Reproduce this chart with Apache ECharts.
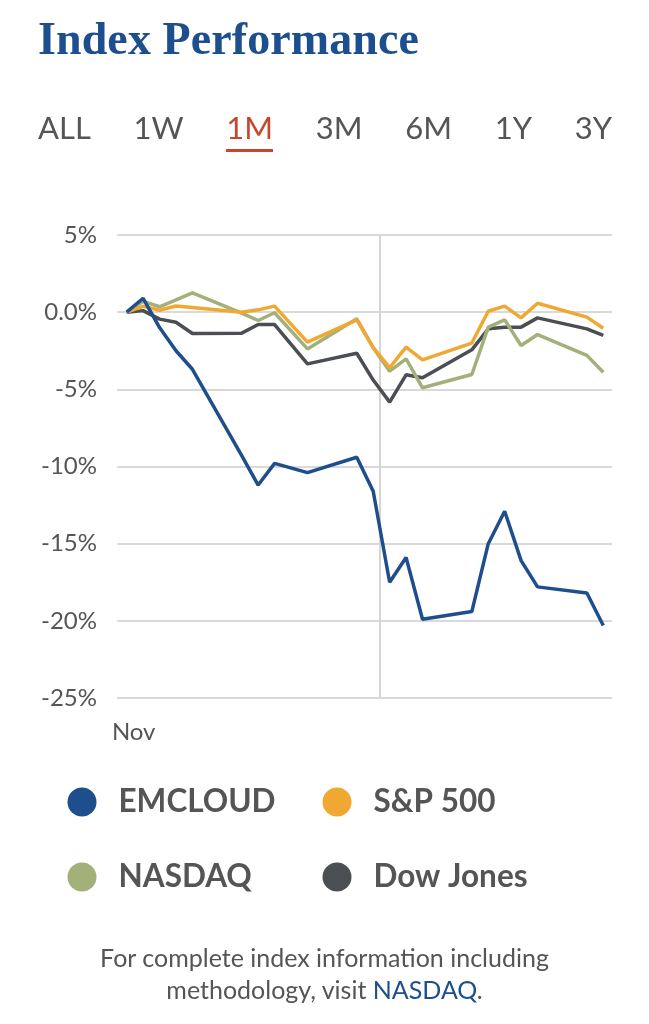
<!DOCTYPE html>
<html>
<head>
<meta charset="utf-8">
<script src="https://cdn.jsdelivr.net/npm/echarts@6/dist/echarts.min.js"></script>
<style>
  html, body { margin: 0; padding: 0; background: #ffffff; }
  body { width: 649px; height: 1024px; position: relative; overflow: hidden; font-family: Lato, "Noto Sans", sans-serif; }
  #chart { position: absolute; left: 0; top: 0; width: 649px; height: 1024px; }
  #title { position: absolute; left: 38px; top: 12px; margin: 0; font-family: "Liberation Serif", serif; font-weight: bold; font-size: 46px; color: #1d4f8f; letter-spacing: 0.1px; white-space: nowrap; z-index: 2; }
  #tabs { position: absolute; left: 38px; width: 574px; top: 108px; display: flex; justify-content: space-between; z-index: 2; }
  #tabs span { font-size: 31px; color: #555555; line-height: 38px; position: relative; }
  #tabs span.active { color: #c8462b; }
  #tabs span.active::after { content: ""; position: absolute; left: 0; right: 0; top: 41px; height: 3px; background: #c8462b; }
  #footer { position: absolute; left: 0; width: 649px; top: 941px; text-align: center; font-size: 25px; line-height: 32px; color: #555555; z-index: 2; }
  #footer a { color: #1d4f8f; text-decoration: none; }
</style>
</head>
<body>
<div id="chart"></div>
<div id="title">Index Performance</div>
<div id="tabs"></div>
<div id="footer">For complete index information including<br>methodology, visit <a href="#">NASDAQ</a>.</div>
<script>
// ---- data ----
const rangeTabs = ['ALL', '1W', '1M', '3M', '6M', '1Y', '3Y'];
const activeTab = '1M';
const tradingDays = ['2021-11-15','2021-11-16','2021-11-17','2021-11-18','2021-11-19',
  '2021-11-22','2021-11-23','2021-11-24','2021-11-26',
  '2021-11-29','2021-11-30','2021-12-01','2021-12-02','2021-12-03',
  '2021-12-06','2021-12-07','2021-12-08','2021-12-09','2021-12-10',
  '2021-12-13','2021-12-14'];
const emcloud = [0, 0.9, -1.0, -2.5, -3.7, -9.3, -11.2, -9.8, -10.4, -9.4, -11.6, -17.5, -15.9, -19.9, -19.4, -15.0, -12.9, -16.1, -17.8, -18.2, -20.3];
const sp500   = [0, 0.38, 0.12, 0.4, 0.3, 0.0, 0.15, 0.39, -1.94, -0.5, -2.3, -3.6, -2.27, -3.09, -2.0, 0.06, 0.39, -0.37, 0.58, -0.32, -1.04];
const nasdaq  = [0, 0.7, 0.35, 0.8, 1.25, -0.06, -0.54, -0.04, -2.38, -0.43, -2.3, -3.82, -3.02, -4.9, -4.04, -0.97, -0.5, -2.16, -1.45, -2.8, -3.89];
const dowJones = [0, 0.1, -0.45, -0.65, -1.38, -1.36, -0.8, -0.8, -3.35, -2.66, -4.4, -5.83, -4.06, -4.25, -2.44, -1.08, -0.97, -0.97, -0.37, -1.08, -1.51];
const seriesNames = ['EMCLOUD', 'S&P 500', 'NASDAQ', 'Dow Jones'];
const yTicks = [5, 0, -5, -10, -15, -20, -25];
const cursorDate = '2021-11-30T10:00';

// ---- tabs ----
const tabsEl = document.getElementById('tabs');
rangeTabs.forEach(t => {
  const s = document.createElement('span');
  s.textContent = t;
  if (t === activeTab) s.className = 'active';
  tabsEl.appendChild(s);
});

// ---- helpers ----
const DAY = 86400000;
function ts(s) {
  const [d, t] = s.split('T');
  const [y, m, dd] = d.split('-').map(Number);
  let h = 0, mi = 0;
  if (t) { [h, mi] = t.split(':').map(Number); }
  return Date.UTC(y, m - 1, dd, h, mi);
}
const t0 = ts(tradingDays[0]);
const dayOf = s => (ts(s) - t0) / DAY;           // calendar days since first trading day
const days = tradingDays.map(dayOf);
const pairs = arr => arr.map((v, i) => [days[i], v]);
const colors = ['#1f4e8c', '#f0a833', '#a3b07a', '#4b4e52'];
const MONTHS = ['Jan','Feb','Mar','Apr','May','Jun','Jul','Aug','Sep','Oct','Nov','Dec'];

const chart = echarts.init(document.getElementById('chart'), null, { renderer: 'canvas' });

function legendAt(name, left, top) {
  return {
    data: [{ name: name, icon: 'circle' }],
    left: left, top: top,
    itemWidth: 29, itemHeight: 29,
    selectedMode: false,
    textStyle: { fontFamily: 'Lato', fontWeight: 'bold', fontSize: 31.5, color: '#555555', padding: [0, 0, 0, 17], lineHeight: 30 }
  };
}

const values = [emcloud, sp500, nasdaq, dowJones];

chart.setOption({
  animation: false,
  color: colors,
  grid: { left: 117, right: 37, top: 235, bottom: 326, containLabel: false },
  legend: [
    legendAt(seriesNames[0], 62.5, 781),
    legendAt(seriesNames[1], 317.5, 781),
    legendAt(seriesNames[2], 62.5, 856),
    legendAt(seriesNames[3], 317.5, 856)
  ],
  xAxis: {
    type: 'value',
    min: -0.59,
    max: days[days.length - 1] + 0.53,
    axisLine: { show: false },
    axisTick: { show: false },
    splitLine: { show: false },
    axisLabel: {
      customValues: [0],
      formatter: v => MONTHS[new Date(t0 + v * DAY).getUTCMonth()],
      fontFamily: 'Lato', fontSize: 24, color: '#555555',
      margin: 22, padding: [0, 0, 0, 14]
    }
  },
  yAxis: {
    type: 'value',
    min: yTicks[yTicks.length - 1], max: yTicks[0], interval: 5,
    axisLine: { show: false },
    axisTick: { show: false },
    splitLine: { lineStyle: { color: '#d9d9d9', width: 2 } },
    axisLabel: {
      fontFamily: 'Lato', fontSize: 24, color: '#555555', margin: 20,
      formatter: v => (v === 0 ? '0.0' : String(v)) + '%'
    }
  },
  series: seriesNames.map((name, i) => ({
    name: name,
    type: 'line',
    data: pairs(values[i]),
    showSymbol: false,
    symbol: 'circle',
    lineStyle: { width: 3.5, color: colors[i] },
    itemStyle: { color: colors[i] },
    z: 10 - i,
    markLine: i === 0 ? {
      silent: true, symbol: 'none', label: { show: false },
      lineStyle: { color: '#d5d5d5', width: 2, type: 'solid' },
      data: [{ xAxis: dayOf(cursorDate) }]
    } : undefined
  }))
});
</script>
</body>
</html>
